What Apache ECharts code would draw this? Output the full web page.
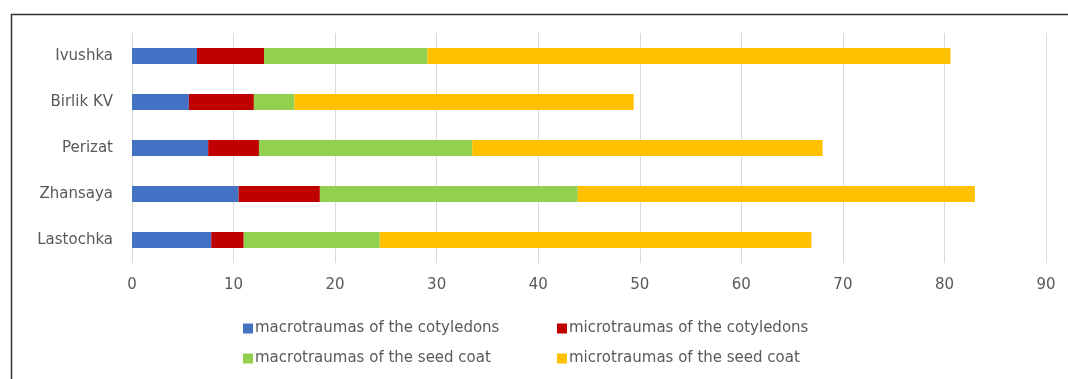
<!DOCTYPE html>
<html>
<head>
<meta charset="utf-8">
<script src="https://cdn.jsdelivr.net/npm/echarts@6/dist/echarts.min.js"></script>
<style>
  html, body { margin: 0; padding: 0; background: #fff; }
  #chart { width: 1068px; height: 379px; }
</style>
</head>
<body>
<div id="chart"></div>
<script>
// varieties, bottom to top as drawn
var varieties = ['Lastochka', 'Zhansaya', 'Perizat', 'Birlik KV', 'Ivushka'];
var seriesNames = [
    'macrotraumas of the cotyledons',
    'microtraumas of the cotyledons',
    'macrotraumas of the seed coat',
    'microtraumas of the seed coat'
];
var macroCotyledons = [7.8, 10.5, 7.5, 5.6, 6.4];
var microCotyledons = [3.2, 8.0, 5.0, 6.4, 6.6];
var macroSeedCoat = [13.4, 25.4, 21.0, 4.0, 16.1];
var microSeedCoat = [42.5, 39.1, 34.5, 33.4, 51.5];
var xTicks = [0, 10, 20, 30, 40, 50, 60, 70, 80, 90];

var colors = ['#4472C4', '#C00000', '#92D050', '#FFC000'];
var values = [macroCotyledons, microCotyledons, macroSeedCoat, microSeedCoat];

var chart = echarts.init(document.getElementById('chart'));

var textFont = 'DejaVu Sans';
var series = seriesNames.map(function (name, i) {
    return {
        name: name,
        type: 'bar',
        stack: 'total',
        barWidth: 16,
        itemStyle: { color: colors[i] },
        data: values[i]
    };
});

// legend laid out like the original: two rows, two aligned columns
var legendPos = [
    { left: 238, top: 316 },
    { left: 552, top: 316 },
    { left: 238, top: 346 },
    { left: 552, top: 346 }
];
var legends = seriesNames.map(function (name, i) {
    return {
        data: [name],
        left: legendPos[i].left,
        top: legendPos[i].top,
        itemWidth: 10,
        itemHeight: 10,
        itemGap: 2,
        icon: 'rect',
        textStyle: { fontFamily: textFont, fontSize: 15, color: '#595959', padding: [0, 0, 0, -3] }
    };
});

var option = {
    backgroundColor: '#fff',
    animation: false,
    graphic: [{
        type: 'rect',
        left: 9,
        top: 12,
        shape: { width: 1100, height: 400 },
        style: { fill: 'none', stroke: '#333', lineWidth: 1.5 }
    }],
    legend: legends,
    grid: { left: 132, right: 22, top: 33, height: 230 },
    xAxis: {
        type: 'value',
        min: xTicks[0],
        max: xTicks[xTicks.length - 1],
        interval: 10,
        axisLine: { show: false },
        axisTick: { show: false },
        splitLine: { lineStyle: { color: '#d9d9d9' } },
        axisLabel: { fontFamily: textFont, fontSize: 15, color: '#595959', margin: 15 }
    },
    yAxis: {
        type: 'category',
        data: varieties,
        axisLine: { show: false },
        axisTick: { show: false },
        axisLabel: { fontFamily: textFont, fontSize: 15, color: '#595959', margin: 19 }
    },
    series: series
};

chart.setOption(option);
</script>
</body>
</html>
